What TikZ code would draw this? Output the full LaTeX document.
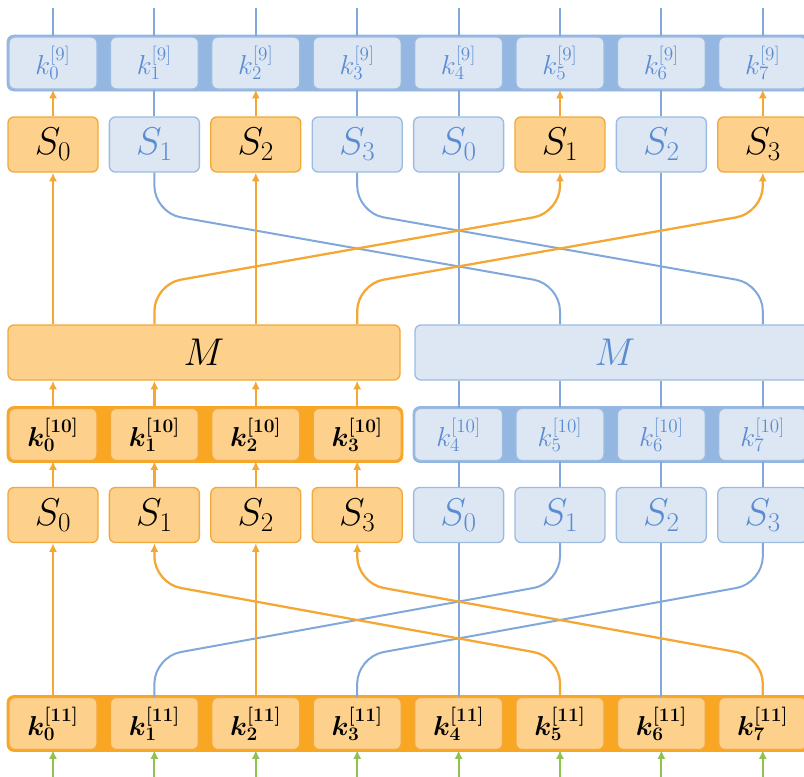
\RequirePackage{fix-cm}
\documentclass[tikz,border=0pt]{standalone}
\usetikzlibrary{arrows.meta,calc}
\definecolor{oFill}{HTML}{FDD08C}
\definecolor{oBar}{HTML}{F9A623}
\definecolor{oLine}{HTML}{F5A733}
\definecolor{oBorder}{HTML}{F3A83A}
\definecolor{bFill}{HTML}{DDE7F3}
\definecolor{bBar}{HTML}{93B7E1}
\definecolor{bLine}{HTML}{80A8DA}
\definecolor{bBorder}{HTML}{9CBBE1}
\definecolor{bText}{HTML}{5A8CD2}
\definecolor{gLine}{HTML}{8DC34E}
\tikzset{
  basebox/.style={rounded corners=4.5pt, line width=1pt, inner sep=0pt},
  sboxo/.style={basebox, fill=oFill, draw=oBorder, text=black, minimum width=67.5pt, minimum height=41.25pt, font=\fontsize{29}{33}\selectfont},
  sboxb/.style={basebox, fill=bFill, draw=bBorder, text=bText, minimum width=67.5pt, minimum height=41.25pt, font=\fontsize{29}{33}\selectfont},
  kboxo/.style={basebox, fill=oFill, draw=oBorder, text=black, minimum width=66pt, minimum height=39pt, font=\fontsize{20.5}{24}\selectfont\boldmath},
  kboxb/.style={basebox, fill=bFill, draw=bBorder, text=bText, minimum width=66pt, minimum height=39pt, font=\fontsize{20.5}{24}\selectfont},
  mboxo/.style={basebox, fill=oFill, draw=oBorder, text=black, minimum height=41.25pt, font=\fontsize{29}{33}\selectfont},
  mboxb/.style={basebox, fill=bFill, draw=bBorder, text=bText, minimum height=41.25pt, font=\fontsize{29}{33}\selectfont},
  obar/.style={fill=oBar, draw=oBar, rounded corners=5pt},
  bbar/.style={fill=bBar, draw=bBar, rounded corners=5pt},
  oarrow/.style={draw=oLine, line width=1.7pt, -{Latex[length=6.5pt,width=6pt]}},
  bline/.style={draw=bLine, line width=1.5pt},
  garrow/.style={draw=gLine, line width=1.6pt, -{Latex[length=6.5pt,width=6pt]}},
  cross/.style={rounded corners=20pt},
}
\begin{document}
\begin{tikzpicture}[x=0.75pt,y=-0.75pt]
\useasboundingbox (0,0) rectangle (804,776);
\fill[white] (0,0) rectangle (804,776);

% bars
\path[bbar] (7,35) rectangle (820,91);
\path[obar] (7,406.5) rectangle (403,462.5);
\path[bbar] (413,406.5) rectangle (820,462.5);
\path[obar] (7,695.5) rectangle (820,751.5);

% k9 row
\foreach \i in {0,...,7} {
  \node[kboxb] (kA\i) at ({53+101.4*\i},63) {$k_{\i}^{[9]}$};
  \coordinate (t\i) at ({53+101.4*\i},8);
}
% top S row
\foreach \i/\c/\l in {0/o/0,1/b/1,2/o/2,3/b/3,4/b/0,5/o/1,6/b/2,7/o/3}
  \node[sbox\c] (St\i) at ({53+101.4*\i},144.5) {$S_{\l}$};
% M row
\node[mboxo, minimum width=294pt] (Ml) at (204,352.5) {$M$};
\node[mboxb, minimum width=300pt] (Mr) at (615,352.5) {$M$};
% k10 row
\foreach \i in {0,...,3}
  \node[kboxo] (kB\i) at ({53+101.4*\i},434.5) {$k_{\i}^{[10]}$};
\foreach \i in {4,...,7}
  \node[kboxb] (kB\i) at ({53+101.4*\i},434.5) {$k_{\i}^{[10]}$};
% bottom S row
\foreach \i/\c/\l in {0/o/0,1/o/1,2/o/2,3/o/3,4/b/0,5/b/1,6/b/2,7/b/3}
  \node[sbox\c] (Sb\i) at ({53+101.4*\i},515) {$S_{\l}$};
% k11 row
\foreach \i in {0,...,7} {
  \node[kboxo] (kC\i) at ({53+101.4*\i},723.5) {$k_{\i}^{[11]}$};
  \coordinate (g\i) at ({53+101.4*\i},782);
}

% top lines into k9
\foreach \i in {0,...,7}
  \draw[bline] (kA\i.north) -- (t\i);

% S top -> k9
\foreach \i in {0,2,5,7}
  \draw[oarrow] (St\i.north) -- (kA\i.south);
\foreach \i in {1,3,4,6}
  \draw[bline] (St\i.north) -- (kA\i.south);

% top crossing region (M -> S top)
\foreach \i in {4,6}
  \draw[bline] (St\i.south) -- (St\i.south |- Mr.north);
\draw[bline, cross] (St1.south) -- ($(St1.south)+(0,40)$) -- ($(St5.south |- Mr.north)+(0,-40)$) -- (St5.south |- Mr.north);
\draw[bline, cross] (St3.south) -- ($(St3.south)+(0,40)$) -- ($(St7.south |- Mr.north)+(0,-40)$) -- (St7.south |- Mr.north);
\foreach \i in {0,2}
  \draw[oarrow] (St\i.south |- Ml.north) -- (St\i.south);
\draw[oarrow, cross] (St1.south |- Ml.north) -- ($(St1.south |- Ml.north)+(0,-40)$) -- ($(St5.south)+(0,40)$) -- (St5.south);
\draw[oarrow, cross] (St3.south |- Ml.north) -- ($(St3.south |- Ml.north)+(0,-40)$) -- ($(St7.south)+(0,40)$) -- (St7.south);

% k10 -> M
\foreach \i in {0,...,3}
  \draw[oarrow] (kB\i.north) -- (kB\i.north |- Ml.south);
\foreach \i in {4,...,7}
  \draw[bline] (kB\i.north) -- (kB\i.north |- Mr.south);

% S bottom -> k10
\foreach \i in {0,...,3}
  \draw[oarrow] (Sb\i.north) -- (kB\i.south);
\foreach \i in {4,...,7}
  \draw[bline] (Sb\i.north) -- (kB\i.south);

% bottom crossing region (k11 -> S bottom)
\foreach \i in {4,6}
  \draw[bline] (kC\i.north) -- (Sb\i.south);
\draw[bline, cross] (kC1.north) -- ($(kC1.north)+(0,-40)$) -- ($(Sb5.south)+(0,40)$) -- (Sb5.south);
\draw[bline, cross] (kC3.north) -- ($(kC3.north)+(0,-40)$) -- ($(Sb7.south)+(0,40)$) -- (Sb7.south);
\foreach \i in {0,2}
  \draw[oarrow] (kC\i.north) -- (Sb\i.south);
\draw[oarrow, cross] (kC5.north) -- ($(kC5.north)+(0,-40)$) -- ($(Sb1.south)+(0,40)$) -- (Sb1.south);
\draw[oarrow, cross] (kC7.north) -- ($(kC7.north)+(0,-40)$) -- ($(Sb3.south)+(0,40)$) -- (Sb3.south);

% green inputs
\foreach \i in {0,...,7}
  \draw[garrow] (g\i) -- (kC\i.south);
\end{tikzpicture}
\end{document}
